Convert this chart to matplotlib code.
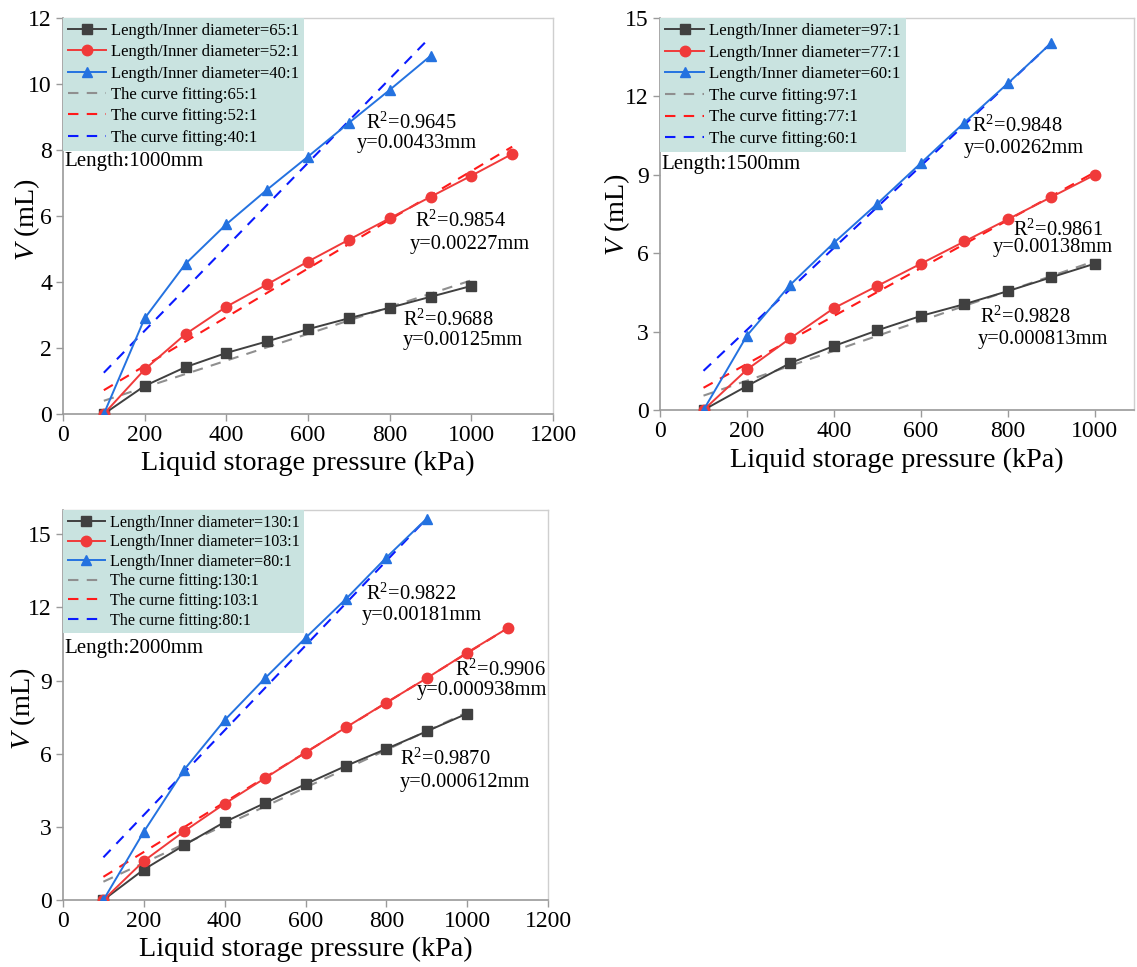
import matplotlib

matplotlib.use("Agg")

import matplotlib.pyplot as plt

plt.rcParams["font.family"] = ["Liberation Serif", "DejaVu Serif"]
plt.rcParams["mathtext.fontset"] = "custom"
plt.rcParams["mathtext.rm"] = "Liberation Serif"
plt.rcParams["mathtext.it"] = "Liberation Serif:italic"

# panel 1: length 1000 mm
p1_x_gray = [100, 200, 300, 400, 500, 600, 700, 800, 900, 1000]
p1_y_gray = [0, 0.85, 1.42, 1.85, 2.2, 2.57, 2.9, 3.22, 3.55, 3.88]
p1_x_red = [100, 200, 300, 400, 500, 600, 700, 800, 900, 1000, 1100]
p1_y_red = [0, 1.35, 2.42, 3.25, 3.93, 4.62, 5.28, 5.93, 6.58, 7.22, 7.88]
p1_x_blue = [100, 200, 300, 400, 500, 600, 700, 800, 900]
p1_y_blue = [0, 2.9, 4.55, 5.75, 6.8, 7.8, 8.82, 9.82, 10.85]
p1_fit_x = [[100, 1000], [100, 1100], [100, 890]]
p1_fit_y = [[0.4, 4.05], [0.72, 8.1], [1.25, 11.3]]

# panel 2: length 1500 mm
p2_x_gray = [100, 200, 300, 400, 500, 600, 700, 800, 900, 1000]
p2_y_gray = [0, 0.92, 1.8, 2.45, 3.05, 3.6, 4.05, 4.55, 5.08, 5.6]
p2_x_red = [100, 200, 300, 400, 500, 600, 700, 800, 900, 1000]
p2_y_red = [0, 1.55, 2.75, 3.9, 4.75, 5.6, 6.45, 7.3, 8.15, 9.0]
p2_x_blue = [100, 200, 300, 400, 500, 600, 700, 800, 900]
p2_y_blue = [0, 2.85, 4.8, 6.4, 7.9, 9.45, 11.0, 12.5, 14.05]
p2_fit_x = [[100, 1000], [100, 1000], [100, 900]]
p2_fit_y = [[0.55, 5.7], [0.85, 9.1], [1.5, 14.05]]

# panel 3: length 2000 mm
p3_x_gray = [100, 200, 300, 400, 500, 600, 700, 800, 900, 1000]
p3_y_gray = [0, 1.25, 2.25, 3.2, 3.98, 4.75, 5.5, 6.2, 6.92, 7.65]
p3_x_red = [100, 200, 300, 400, 500, 600, 700, 800, 900, 1000, 1100]
p3_y_red = [0, 1.6, 2.82, 3.95, 5.0, 6.05, 7.08, 8.1, 9.1, 10.15, 11.15]
p3_x_blue = [100, 200, 300, 400, 500, 600, 700, 800, 900]
p3_y_blue = [0, 2.8, 5.35, 7.38, 9.1, 10.75, 12.35, 14.05, 15.65]
p3_fit_x = [[100, 1000], [100, 1100], [100, 900]]
p3_fit_y = [[0.75, 7.7], [0.95, 11.15], [1.75, 15.65]]

# (R2 x, R2 y, slope x, slope y, R2 text, slope text)
p1_notes = [(742, 8.82, 720, 8.21, "0.9645", "0.00433"),
            (863, 5.85, 850, 5.15, "0.9854", "0.00227"),
            (833, 2.85, 831, 2.24, "0.9688", "0.00125")]
p2_notes = [(718, 10.87, 698, 10.0, "0.9848", "0.00262"),
            (811, 6.89, 766, 6.2, "0.9861", "0.00138"),
            (736, 3.56, 731, 2.68, "0.9828", "0.000813")]
p3_notes = [(750, 12.54, 740, 11.68, "0.9822", "0.00181"),
            (970, 9.43, 874, 8.6, "0.9906", "0.000938"),
            (835, 5.78, 832, 4.84, "0.9870", "0.000612")]

panels = [
    dict(
        rect=[0.0554, 0.5719, 0.431, 0.4095],
        xlim=(0, 1200), xticks=[0, 200, 400, 600, 800, 1000, 1200],
        ylim=(0, 12), yticks=[0, 2, 4, 6, 8, 10, 12],
        data=[(p1_x_gray, p1_y_gray), (p1_x_red, p1_y_red), (p1_x_blue, p1_y_blue)],
        fit_x=p1_fit_x, fit_y=p1_fit_y,
        ratios=["65:1", "52:1", "40:1"], fit_word="curve",
        length="Length:1000mm", length_y=7.64, notes=p1_notes,
        leg_fs=12, leg_sp=0.32, xlab_y=-0.124, ylab_x=-0.043, ylab_y=0.49,
    ),
    dict(
        rect=[0.5805, 0.576, 0.4169, 0.4054],
        xlim=(0, 1090), xticks=[0, 200, 400, 600, 800, 1000],
        ylim=(0, 15), yticks=[0, 3, 6, 9, 12, 15],
        data=[(p2_x_gray, p2_y_gray), (p2_x_red, p2_y_red), (p2_x_blue, p2_y_blue)],
        fit_x=p2_fit_x, fit_y=p2_fit_y,
        ratios=["97:1", "77:1", "60:1"], fit_word="curve",
        length="Length:1500mm", length_y=9.38, notes=p2_notes,
        leg_fs=12.2, leg_sp=0.33, xlab_y=-0.128, ylab_x=-0.059, ylab_y=0.5,
    ),
    dict(
        rect=[0.0554, 0.0693, 0.4266, 0.4033],
        xlim=(0, 1200), xticks=[0, 200, 400, 600, 800, 1000, 1200],
        ylim=(0, 16), yticks=[0, 3, 6, 9, 12, 15],
        data=[(p3_x_gray, p3_y_gray), (p3_x_red, p3_y_red), (p3_x_blue, p3_y_blue)],
        fit_x=p3_fit_x, fit_y=p3_fit_y,
        ratios=["130:1", "103:1", "80:1"], fit_word="curne",
        length="Length:2000mm", length_y=10.3, notes=p3_notes,
        leg_fs=11.6, leg_sp=0.22, xlab_y=-0.128, ylab_x=-0.051, ylab_y=0.49,
    ),
]

line_colors = ["#404040", "#f03a3a", "#2472e0"]
fit_colors = ["#8f8f8f", "#ff1a1a", "#0a1aff"]
markers = ["s", "o", "^"]
marker_sizes = [6.5, 7.5, 7.5]
spine_gray = "#9a9a9a"

fig = plt.figure(figsize=(11.37, 9.67), dpi=100)

for p in panels:
    ax = fig.add_axes(p["rect"])
    handles = []
    for i, (xs, ys) in enumerate(p["data"]):
        h, = ax.plot(xs, ys, color=line_colors[i], marker=markers[i],
                     markersize=marker_sizes[i], linewidth=1.4,
                     label="Length/Inner diameter=" + p["ratios"][i], zorder=3)
        handles.append(h)
    for i in range(3):
        h, = ax.plot(p["fit_x"][i], p["fit_y"][i], color=fit_colors[i],
                     linestyle=(0, (5, 4)), linewidth=1.5,
                     label="The " + p["fit_word"] + " fitting:" + p["ratios"][i], zorder=2)
        handles.append(h)

    ax.set_xlim(*p["xlim"])
    ax.set_ylim(*p["ylim"])
    ax.set_xticks(p["xticks"])
    ax.set_yticks(p["yticks"])
    ax.tick_params(labelsize=17, direction="out", length=5,
                   color=spine_gray, width=1, pad=3)
    for side in ["left", "bottom"]:
        ax.spines[side].set_color(spine_gray)
        ax.spines[side].set_linewidth(1.2)
    for side in ["top", "right"]:
        ax.spines[side].set_color("#cfcfcf")
        ax.spines[side].set_linewidth(1.0)

    ax.set_xlabel("Liquid storage pressure (kPa)", fontsize=20.3, va="center")
    ax.set_ylabel("$\\mathit{V}$ (mL)", fontsize=20.3)
    ax.xaxis.set_label_coords(0.5, p["xlab_y"])
    ax.yaxis.set_label_coords(p["ylab_x"], p["ylab_y"])

    leg = ax.legend(handles=handles, loc="upper left", fontsize=p["leg_fs"],
                    frameon=True, fancybox=False, framealpha=1,
                    borderaxespad=0.0, borderpad=0.3, labelspacing=p["leg_sp"],
                    handlelength=2.3, handletextpad=0.3)
    leg.get_frame().set_facecolor("#c9e3e0")
    leg.get_frame().set_edgecolor("none")

    ax.text(4, p["length_y"], p["length"], fontsize=15, va="center", ha="left")

    for rx, ry, sx, sy, r2, slope in p["notes"]:
        ax.text(rx, ry, "R$^2$=" + r2, fontsize=14.8, va="center", ha="left")
        ax.text(sx, sy, "y=" + slope + "mm", fontsize=14.8, va="center", ha="left")

fig.savefig("out.png", dpi=100)
